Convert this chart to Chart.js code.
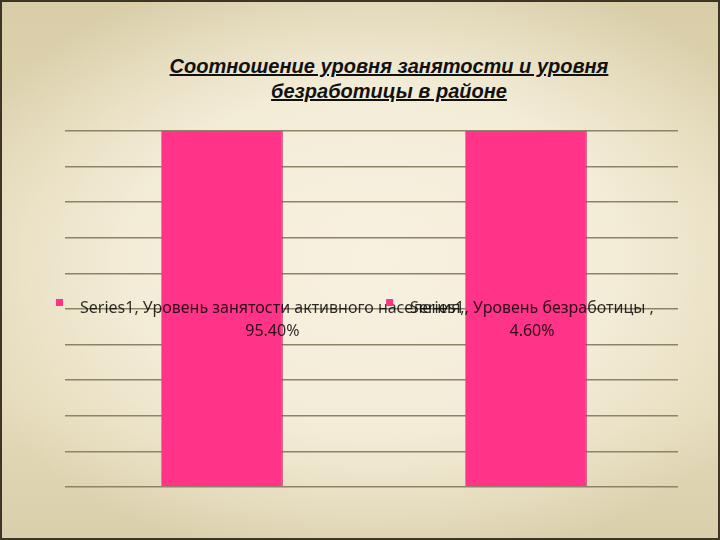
<!DOCTYPE html>
<html>
<head>
<meta charset="utf-8">
<script src="https://cdn.jsdelivr.net/npm/chart.js@4/dist/chart.umd.min.js"></script>
<style>
    html, body { margin: 0; padding: 0; }
    body { width: 720px; height: 540px; overflow: hidden; }
    #frame {
        position: relative; width: 716px; height: 536px;
        border: 2px solid #3d3526;
        background:
            radial-gradient(ellipse 62% 58% at 52% 48%, rgba(248,241,224,1) 0%, rgba(243,236,215,1) 55%, rgba(243,236,215,0) 100%),
            linear-gradient(180deg, #d8cda7 0%, #e3d9b8 40%, #e4dab9 75%, #dacfab 100%);
    }
    #title {
        position: absolute; left: 0; top: 52px; width: 774px; text-align: center;
        font-family: "Liberation Sans", Arial, sans-serif; font-size: 20px;
        font-weight: bold; font-style: italic; text-decoration: underline;
        line-height: 25px; color: #111;
    }
    canvas { position: absolute; left: -2px; top: -2px; }
</style>
</head>
<body>
<div id="frame">
    <div id="title">Соотношение уровня занятости и уровня<br>безработицы в районе</div>
    <canvas id="chart" width="720" height="540"></canvas>
</div>
<script>
const categories = ['Уровень занятости активного населения', 'Уровень безработицы '];
const seriesName = 'Series1';
const values = [95.4, 4.6];
const barColor = '#ff3388';

// etiquettes au centre des barres, avec le petit carré de légende
const labelPlugin = {
    id: 'barLabels',
    afterDatasetsDraw(chart) {
        const ctx = chart.ctx;
        const area = chart.chartArea;
        const meta = chart.getDatasetMeta(0);
        const midY = (area.top + area.bottom) / 2;
        ctx.save();
        ctx.font = '16px "Noto Sans", sans-serif';
        ctx.textBaseline = 'middle';
        meta.data.forEach((bar, i) => {
            const line1 = seriesName + ', ' + categories[i] + ',';
            const line2 = values[i].toFixed(2) + '%';
            const w = Math.max(ctx.measureText(line1).width, ctx.measureText(line2).width);
            const blockW = 7 + 17 + w;
            let left = bar.x - 6 - blockW / 2;
            if (left < 56) left = 56;
            ctx.fillStyle = barColor;
            ctx.fillRect(left, midY - 10, 7, 7);
            const cx = left + 24 + w / 2;
            ctx.fillStyle = 'rgba(0,0,0,0.82)';
            ctx.textAlign = 'center';
            ctx.fillText(line1, cx, midY - 1);
            ctx.fillText(line2, cx, midY + 22);
        });
        ctx.restore();
    }
};

new Chart(document.getElementById('chart'), {
    type: 'bar',
    data: {
        labels: categories,
        datasets: [{
            label: seriesName,
            data: values,
            backgroundColor: barColor,
            borderColor: '#c0226a',
            borderWidth: { right: 1 },
            barPercentage: 0.4,
            categoryPercentage: 1.0
        }]
    },
    options: {
        responsive: false,
        animation: false,
        layout: { padding: { left: 70, right: 42, top: 131, bottom: 53 } },
        plugins: { legend: { display: false }, title: { display: false }, tooltip: { enabled: false } },
        scales: {
            x: { display: false },
            y: {
                min: 0,
                max: 4.6,
                ticks: { display: false, count: 11 },
                border: { display: false },
                grid: { color: '#8c8466', lineWidth: 1.5, drawTicks: true, tickLength: 5 },
                afterFit: scale => { scale.width = 0; }
            }
        }
    },
    plugins: [labelPlugin]
});
</script>
</body>
</html>
